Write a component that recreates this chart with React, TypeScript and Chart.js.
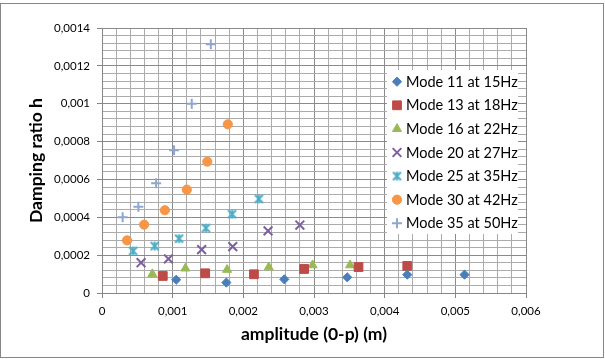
import React, { useEffect, useRef } from 'react';
import { Chart, registerables } from 'chart.js';
import { drawPoint } from 'chart.js/helpers';

Chart.register(...registerables);

// ---- data ----
const seriesNames = [
  'Mode 11 at 15Hz',
  'Mode 13 at 18Hz',
  'Mode 16 at 22Hz',
  'Mode 20 at 27Hz',
  'Mode 25 at 35Hz',
  'Mode 30 at 42Hz',
  'Mode 35 at 50Hz',
];

const mode11X = [0.00105, 0.00176, 0.00258, 0.00347, 0.00432, 0.00513];
const mode11Y = [0.00007, 0.000055, 0.000072, 0.000083, 0.000097, 0.000097];

const mode13X = [0.00086, 0.00146, 0.00215, 0.00286, 0.00363, 0.00432];
const mode13Y = [0.00009, 0.000104, 0.000099, 0.000127, 0.000137, 0.000143];

const mode16X = [0.000713, 0.00118, 0.00177, 0.00236, 0.00298, 0.00351];
const mode16Y = [0.0001, 0.00013, 0.000123, 0.000136, 0.000147, 0.000147];

const mode20X = [0.000553, 0.00094, 0.00141, 0.00185, 0.00235, 0.0028];
const mode20Y = [0.00016, 0.00018, 0.000229, 0.000245, 0.000328, 0.000359];

const mode25X = [0.00044, 0.000746, 0.00109, 0.00147, 0.00184, 0.00222];
const mode25Y = [0.000222, 0.000248, 0.000287, 0.000343, 0.000417, 0.000497];

const mode30X = [0.000355, 0.000596, 0.00089, 0.0012, 0.00149, 0.00178];
const mode30Y = [0.000278, 0.000361, 0.000437, 0.000546, 0.000694, 0.000891];

const mode35X = [0.000292, 0.000515, 0.000766, 0.00102, 0.00127, 0.00154];
const mode35Y = [0.0004, 0.000456, 0.00058, 0.000754, 0.001, 0.001314];

const xMajorTicks = [0, 0.001, 0.002, 0.003, 0.004, 0.005, 0.006];
const xTickLabels = ['0', '0,001', '0,002', '0,003', '0,004', '0,005', '0,006'];
const yMajorTicks = [0, 0.0002, 0.0004, 0.0006, 0.0008, 0.001, 0.0012, 0.0014];
const yTickLabels = ['0', '0,0002', '0,0004', '0,0006', '0,0008', '0,001', '0,0012', '0,0014'];

const xTitle = 'amplitude (0-p) (m)';
const yTitle = 'Damping ratio h';

// ---- styles ----
const FONT = 'Lato, "Open Sans", sans-serif';
const MINOR_PER_MAJOR = 5;
const GRID_MAJOR = '#8a8a8a';
const GRID_MINOR = '#ababab';

function withMinor(majors: number[]): number[] {
  const out: number[] = [];
  for (let i = 0; i < majors.length - 1; i++) {
    const a = majors[i];
    const b = majors[i + 1];
    for (let k = 0; k < MINOR_PER_MAJOR; k++) out.push(a + ((b - a) * k) / MINOR_PER_MAJOR);
  }
  out.push(majors[majors.length - 1]);
  return out;
}

function makeAsterisk(color: string): HTMLCanvasElement {
  const c = document.createElement('canvas');
  c.width = 11;
  c.height = 11;
  const g = c.getContext('2d')!;
  g.strokeStyle = color;
  g.lineWidth = 2;
  g.lineCap = 'butt';
  g.beginPath();
  g.moveTo(1.5, 1.5);
  g.lineTo(9.5, 9.5);
  g.moveTo(9.5, 1.5);
  g.lineTo(1.5, 9.5);
  g.moveTo(5.5, 1);
  g.lineTo(5.5, 10);
  g.stroke();
  return c;
}

const pts = (xs: number[], ys: number[]) => xs.map((x, i) => ({ x, y: ys[i] }));

export default function App() {
  const ref = useRef<HTMLCanvasElement | null>(null);

  useEffect(() => {
    if (!ref.current) return;
    const teal = '#4BACC6';
    const asterisk = makeAsterisk(teal);

    const styles = [
      { color: '#4A7EBB', pointStyle: 'rectRot', r: 4.6, bw: 1 },
      { color: '#BE4B48', pointStyle: 'rect', r: 6.2, bw: 1 },
      { color: '#98B954', pointStyle: 'triangle', r: 5.2, bw: 1 },
      { color: '#7D60A0', pointStyle: 'crossRot', r: 6.2, bw: 2 },
      { color: teal, pointStyle: asterisk as any, r: 5, bw: 1 },
      { color: '#F79646', pointStyle: 'circle', r: 4.6, bw: 1 },
      { color: '#8EA7D0', pointStyle: 'cross', r: 5, bw: 2 },
    ];
    const seriesData = [
      pts(mode11X, mode11Y),
      pts(mode13X, mode13Y),
      pts(mode16X, mode16Y),
      pts(mode20X, mode20Y),
      pts(mode25X, mode25Y),
      pts(mode30X, mode30Y),
      pts(mode35X, mode35Y),
    ];

    const datasets = seriesNames.map((name, i) => ({
      label: name,
      data: seriesData[i],
      pointStyle: styles[i].pointStyle,
      pointRadius: styles[i].r,
      pointHoverRadius: styles[i].r,
      pointBorderWidth: styles[i].bw,
      backgroundColor: styles[i].color,
      borderColor: styles[i].color,
      showLine: false,
    }));

    const legendPlugin = {
      id: 'insideLegend',
      afterDraw(chart: any) {
        const ctx = chart.ctx as CanvasRenderingContext2D;
        ctx.save();
        ctx.fillStyle = '#ffffff';
        ctx.fillRect(387, 70, 131, 164);
        ctx.font = `14.5px ${FONT}`;
        ctx.textBaseline = 'middle';
        ctx.textAlign = 'left';
        seriesNames.forEach((name, i) => {
          const y = 81.7 + i * 23.6;
          const st = styles[i];
          ctx.fillStyle = st.color;
          ctx.strokeStyle = st.color;
          ctx.lineWidth = st.bw;
          drawPoint(ctx, { pointStyle: st.pointStyle, radius: st.r, rotation: 0, borderWidth: st.bw } as any, 397, y);
          ctx.fillStyle = '#000000';
          ctx.fillText(name, 406, y + 0.5);
        });
        // outer chart border
        ctx.strokeStyle = '#868686';
        ctx.lineWidth = 1;
        ctx.strokeRect(0.5, 3.5, 603, 354);
        ctx.restore();
      },
    };

    const gridColor = (c: any) => (c.index % MINOR_PER_MAJOR === 0 ? GRID_MAJOR : GRID_MINOR);
    const tickColor = (c: any) => (c.index % MINOR_PER_MAJOR === 0 ? '#868686' : 'rgba(0,0,0,0)');

    const chart = new Chart(ref.current, {
      type: 'scatter',
      data: { datasets: datasets as any },
      plugins: [legendPlugin],
      options: {
        responsive: false,
        animation: false,
        events: [],
        layout: { padding: { left: 0, right: 79, top: 28, bottom: 0 } },
        plugins: {
          legend: { display: false },
          tooltip: { enabled: false },
        },
        scales: {
          x: {
            type: 'linear',
            min: 0,
            max: 0.006,
            afterBuildTicks: (scale: any) => {
              scale.ticks = withMinor(xMajorTicks).map((v) => ({ value: v }));
            },
            afterFit: (scale: any) => {
              scale.height = 66;
            },
            grid: { color: gridColor, tickColor, tickLength: 5, lineWidth: 1 },
            border: { color: '#868686' },
            ticks: {
              autoSkip: false,
              maxRotation: 0,
              padding: 6,
              color: '#000',
              font: { family: FONT, size: 11.5 },
              callback: (_v: any, i: number) => (i % MINOR_PER_MAJOR === 0 ? xTickLabels[i / MINOR_PER_MAJOR] : ''),
            },
            title: {
              display: true,
              text: xTitle,
              color: '#000',
              font: { family: FONT, size: 17.5, weight: 'bold' },
              padding: { top: 0, bottom: 14 },
            },
          },
          y: {
            type: 'linear',
            min: 0,
            max: 0.0014,
            afterBuildTicks: (scale: any) => {
              scale.ticks = withMinor(yMajorTicks).map((v) => ({ value: v }));
            },
            afterFit: (scale: any) => {
              scale.width = 102;
            },
            grid: { color: gridColor, tickColor, tickLength: 5, lineWidth: 1 },
            border: { color: '#868686' },
            ticks: {
              autoSkip: false,
              padding: 7,
              color: '#000',
              font: { family: FONT, size: 11.5 },
              callback: (_v: any, i: number) => (i % MINOR_PER_MAJOR === 0 ? yTickLabels[i / MINOR_PER_MAJOR] : ''),
            },
            title: {
              display: true,
              text: yTitle,
              color: '#000',
              font: { family: FONT, size: 17.5, weight: 'bold' },
              padding: { top: 26, bottom: 0 },
            },
          },
        },
      } as any,
    });
    return () => chart.destroy();
  }, []);

  return (
    <div style={{ position: 'fixed', left: 0, top: 0, width: 605, height: 359, background: '#fff' }}>
      <canvas ref={ref} width={605} height={359} style={{ display: 'block' }} />
    </div>
  );
}
